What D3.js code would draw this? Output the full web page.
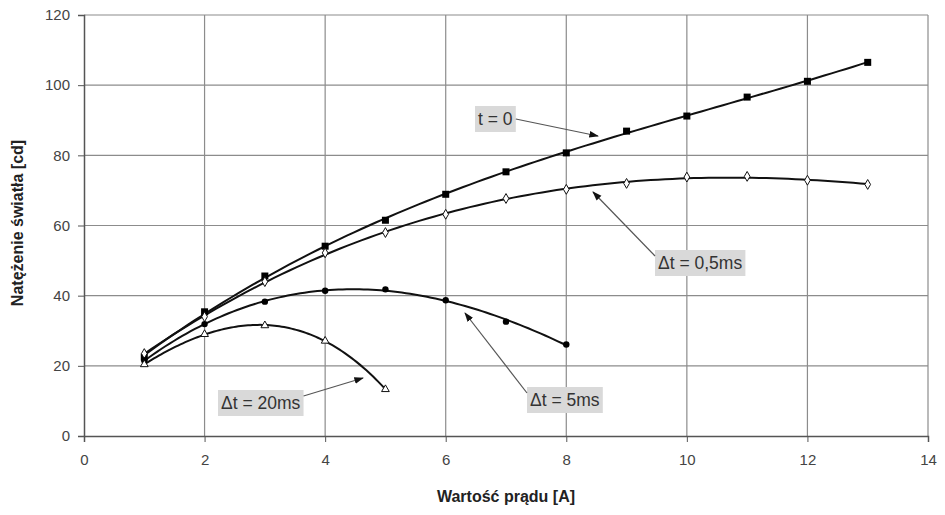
<!DOCTYPE html>
<html>
<head>
<meta charset="utf-8">
<script src="https://cdn.jsdelivr.net/npm/d3@7"></script>
<style>
  body { margin: 0; background: #fff; }
  text { font-family: "Liberation Sans", Arial, sans-serif; }
</style>
</head>
<body>
<div id="chart"></div>
<script>
// data
var current = [1, 2, 3, 4, 5, 6, 7, 8, 9, 10, 11, 12, 13];
var t0 = [22.5, 35.4, 45.6, 54.1, 61.5, 68.9, 75.3, 80.7, 86.9, 91.2, 96.6, 101.1, 106.5];
var dt05 = [23.5, 34, 44, 52.2, 58, 63.2, 67.7, 70.3, 72, 73.8, 74.0, 72.9, 71.7];
var dt5 = [21.5, 31.9, 38.3, 41.4, 41.8, 38.7, 32.6, 26.1];
var dt20 = [20.4, 29, 31.5, 27.1, 13.3];
var xTicks = [0, 2, 4, 6, 8, 10, 12, 14];
var yTicks = [0, 20, 40, 60, 80, 100, 120];

var labels = [
    { text: "t = 0", box: [475, 106], target: [598, 136] },
    { text: "\u0394t = 0,5ms", box: [655, 250], target: [593, 192] },
    { text: "\u0394t = 5ms", box: [527, 387], target: [465, 313] },
    { text: "\u0394t = 20ms", box: [218, 390], target: [363, 378] }
];

var width = 945, height = 515;
var margin = { top: 15, right: 17, bottom: 79, left: 84 };

var svg = d3.select("#chart").append("svg")
    .attr("width", width)
    .attr("height", height);

var x = d3.scaleLinear().domain([0, 14]).range([margin.left, width - margin.right]);
var y = d3.scaleLinear().domain([0, 120]).range([height - margin.bottom, margin.top]);

// least squares polynomial (the trendlines in the original)
function polyFit(xs, ys, deg) {
    var n = deg + 1, A = [], b = [];
    for (var i = 0; i < n; i++) {
        A.push([]);
        for (var j = 0; j < n; j++) A[i].push(d3.sum(xs, xv => Math.pow(xv, i + j)));
        b.push(d3.sum(xs, (xv, k) => ys[k] * Math.pow(xv, i)));
    }
    for (var c = 0; c < n; c++) {
        for (var r = c + 1; r < n; r++) {
            var f = A[r][c] / A[c][c];
            for (var k = c; k < n; k++) A[r][k] -= f * A[c][k];
            b[r] -= f * b[c];
        }
    }
    var coef = new Array(n).fill(0);
    for (var r = n - 1; r >= 0; r--) {
        var s = b[r];
        for (var k = r + 1; k < n; k++) s -= A[r][k] * coef[k];
        coef[r] = s / A[r][r];
    }
    return function (xv) { return d3.sum(coef, (cf, p) => cf * Math.pow(xv, p)); };
}

// grid lines
svg.append("g")
    .selectAll("line")
    .data(yTicks.filter(d => d > 0))
    .enter().append("line")
    .attr("x1", x(0)).attr("x2", x(14))
    .attr("y1", d => y(d)).attr("y2", d => y(d))
    .attr("stroke", "#8c8c8c").attr("stroke-width", 1.2);

svg.append("g")
    .selectAll("line")
    .data(xTicks.filter(d => d > 0))
    .enter().append("line")
    .attr("x1", d => x(d)).attr("x2", d => x(d))
    .attr("y1", y(0)).attr("y2", y(120))
    .attr("stroke", "#8c8c8c").attr("stroke-width", 1.2);

// axes
svg.append("g")
    .attr("transform", "translate(0," + y(0) + ")")
    .call(d3.axisBottom(x).tickValues(xTicks).tickSize(6).tickPadding(12))
    .call(g => g.select(".domain").attr("stroke", "#555").attr("stroke-width", 1.5))
    .call(g => g.selectAll(".tick line").attr("stroke", "#555"))
    .call(g => g.selectAll(".tick text").attr("fill", "#444").style("font-size", "15px"));

svg.append("g")
    .attr("transform", "translate(" + x(0) + ",0)")
    .call(d3.axisLeft(y).tickValues(yTicks).tickSize(6).tickPadding(8))
    .call(g => g.select(".domain").attr("stroke", "#555").attr("stroke-width", 1.5))
    .call(g => g.selectAll(".tick line").attr("stroke", "#555"))
    .call(g => g.selectAll(".tick text").attr("fill", "#444").style("font-size", "15px"));

// axis titles
svg.append("text")
    .attr("x", (x(0) + x(14)) / 2)
    .attr("y", 502)
    .attr("text-anchor", "middle")
    .style("font-size", "16px")
    .style("font-weight", "bold")
    .attr("fill", "#222")
    .text("Wartość prądu [A]");

svg.append("text")
    .attr("transform", "translate(23," + 223 + ") rotate(-90)")
    .attr("text-anchor", "middle")
    .style("font-size", "16px")
    .style("font-weight", "bold")
    .attr("fill", "#222")
    .text("Natężenie światła [cd]");

// trendlines
var line = d3.line()
    .x(d => x(d[0]))
    .y(d => y(d[1]));

[[t0, 3], [dt05, 3], [dt5, 3], [dt20, 3]].forEach(function (s) {
    var xs = current.slice(0, s[0].length);
    var fn = polyFit(xs, s[0], s[1]);
    var pts = d3.range(0, 101).map(function (i) {
        var xv = xs[0] + (xs[xs.length - 1] - xs[0]) * i / 100;
        return [xv, fn(xv)];
    });
    svg.append("path")
        .datum(pts)
        .attr("d", line)
        .attr("fill", "none")
        .attr("stroke", "#111")
        .attr("stroke-width", 2);
});

// markers
svg.append("g").selectAll("rect")
    .data(t0).enter().append("rect")
    .attr("x", (d, i) => x(current[i]) - 3.5)
    .attr("y", d => y(d) - 3.5)
    .attr("width", 7).attr("height", 7)
    .attr("fill", "#000");

svg.append("g").selectAll("path")
    .data(dt05).enter().append("path")
    .attr("d", d3.symbol(d3.symbolDiamond, 28))
    .attr("transform", (d, i) => "translate(" + x(current[i]) + "," + y(d) + ")")
    .attr("fill", "#fff").attr("stroke", "#111").attr("stroke-width", 1);

svg.append("g").selectAll("circle")
    .data(dt5).enter().append("circle")
    .attr("cx", (d, i) => x(current[i]))
    .attr("cy", d => y(d))
    .attr("r", 3.2)
    .attr("fill", "#000");

svg.append("g").selectAll("path")
    .data(dt20).enter().append("path")
    .attr("d", d3.symbol(d3.symbolTriangle, 26))
    .attr("transform", (d, i) => "translate(" + x(current[i]) + "," + y(d) + ")")
    .attr("fill", "#fff").attr("stroke", "#111").attr("stroke-width", 1);

// annotations
svg.append("defs").append("marker")
    .attr("id", "arrow")
    .attr("viewBox", "0 0 10 10")
    .attr("refX", 9).attr("refY", 5)
    .attr("markerWidth", 8).attr("markerHeight", 8)
    .attr("orient", "auto")
    .append("path")
    .attr("d", "M0,1.5 L10,5 L0,8.5 Z")
    .attr("fill", "#111");

labels.forEach(function (l) {
    var g = svg.append("g");
    var txt = g.append("text")
        .attr("x", l.box[0] + 3)
        .attr("y", l.box[1] + 19)
        .style("font-size", "17.5px")
        .attr("fill", "#333")
        .text(l.text);
    var bb = txt.node().getBBox();
    g.insert("rect", "text")
        .attr("x", l.box[0])
        .attr("y", l.box[1])
        .attr("width", bb.width + 6)
        .attr("height", 26)
        .attr("fill", "#d9d9d9");
    // start arrow at nearest box edge
    var bx = l.target[0] > l.box[0] + bb.width ? l.box[0] + bb.width + 6 : l.box[0];
    var by = l.target[1] < l.box[1] ? l.box[1] + 6 : l.box[1] + 13;
    svg.append("line")
        .attr("x1", bx).attr("y1", by)
        .attr("x2", l.target[0]).attr("y2", l.target[1])
        .attr("stroke", "#555").attr("stroke-width", 1.2)
        .attr("marker-end", "url(#arrow)");
});
</script>
</body>
</html>
